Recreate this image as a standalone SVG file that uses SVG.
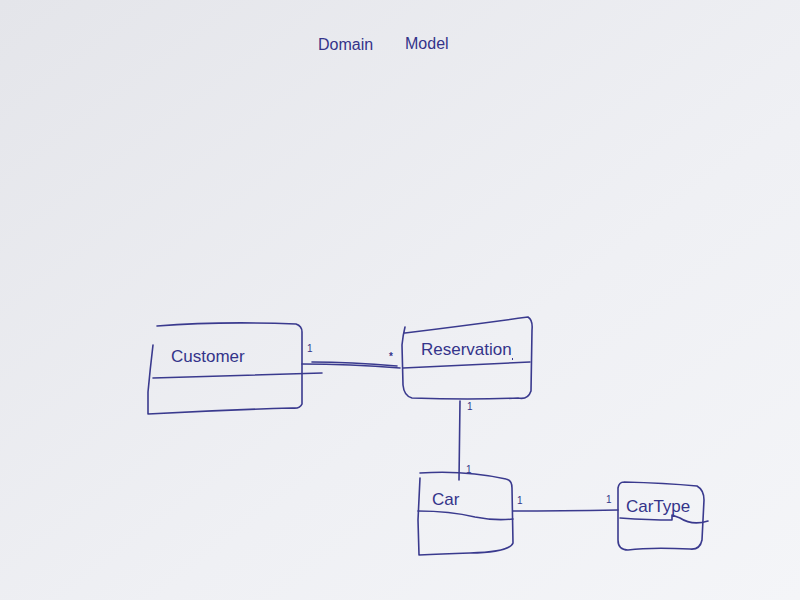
<svg xmlns="http://www.w3.org/2000/svg" width="800" height="600" viewBox="0 0 800 600">
<defs>
<linearGradient id="bg" x1="0" y1="0" x2="1" y2="1">
<stop offset="0" stop-color="#e4e5ea"/>
<stop offset="0.6" stop-color="#eff0f4"/>
<stop offset="1" stop-color="#f4f5f8"/>
</linearGradient>
<style>
.ink{fill:none;stroke:#3a3a8e;stroke-width:1.6;stroke-linecap:round;stroke-linejoin:round}
.t{font-family:"Liberation Sans",Arial,sans-serif;fill:#34348a}
.name{font-size:17px}
.m{font-size:10px}
</style>
</defs>
<rect width="800" height="600" fill="url(#bg)"/>
<text class="t" x="318" y="50" font-size="16">Domain</text>
<text class="t" x="405" y="49" font-size="16">Model</text>

<g id="customer">
<path class="ink" d="M157 326 Q220 321 296 324 Q302 326 302 332 L302 404 Q300 409 292 408 Q220 410 148 414 L148 392 Q150 370 153 345"/>
<path class="ink" d="M153 378 L322 373"/>
<text class="t name" x="171" y="362">Customer</text>
</g>

<g id="reservation">
<path class="ink" d="M405 333 Q470 325 528 317 Q533 320 532 330 L531 391 Q528 400 518 398 Q470 400 412 398 Q404 396 403 385 L402 345 Q403 335 405 327"/>
<path class="ink" d="M403 368 Q470 365 530 362"/>
<text class="t name" x="421" y="355">Reservation</text>
<path d="M512 359 l1 0" stroke="#3a3a8e" stroke-width="2"/>
</g>

<g id="car">
<path class="ink" d="M420 473 Q465 470 506 479 Q512 480 512 488 L513 543 Q510 552 470 553 Q440 554 419 555 L418 520 L420 478"/>
<path class="ink" d="M418 511 Q450 511 475 517 Q495 521 513 519"/>
<text class="t name" x="432" y="505">Car</text>
</g>

<g id="cartype">
<path class="ink" d="M624 482 Q665 483 697 486 Q704 490 704 500 L702 540 Q700 550 690 549 Q650 547 628 550 Q618 550 618 540 L618 488 Q619 482 624 482"/>
<path class="ink" d="M620 518 Q650 520 672 520 L672 515 L680 518 Q692 526 708 521"/>
<text class="t name" x="626" y="512">CarType</text>
</g>

<g id="connectors">
<path class="ink" d="M302 364 Q350 364 400 368"/>
<path class="ink" d="M312 362 Q350 362 397 366" stroke-width="0.8"/>
<path class="ink" d="M460 401 L459 480"/>
<path class="ink" d="M513 511 Q560 511 618 510"/>
<text class="t m" x="307" y="352">1</text>
<text class="t m" x="389" y="360" font-size="12" font-weight="bold">*</text>
<text class="t m" x="467" y="410">1</text>
<text class="t m" x="466" y="473">1</text>
<text class="t m" x="517" y="504">1</text>
<text class="t m" x="606" y="503">1</text>
</g>
</svg>
